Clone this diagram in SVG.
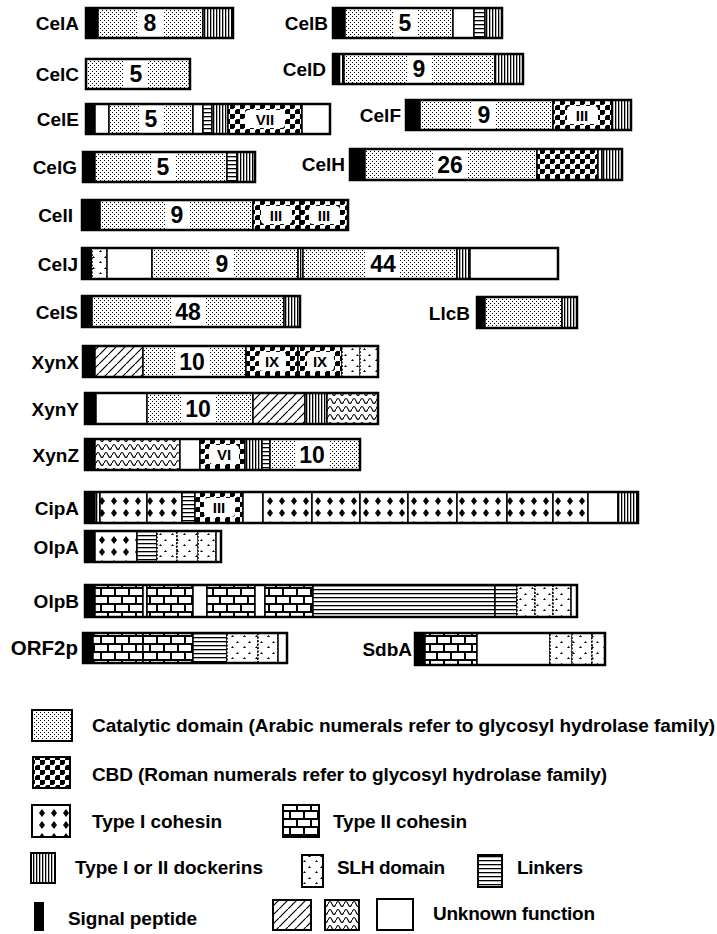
<svg xmlns="http://www.w3.org/2000/svg" width="717" height="934" viewBox="0 0 717 934">
<style>
.sig{fill:#000;stroke:#000;stroke-width:1}
.cat{fill:url(#pCat);stroke:#000;stroke-width:1.5}
.cbd{fill:url(#pCBD);stroke:#000;stroke-width:1.5}
.coh1{fill:url(#pCoh1);stroke:#000;stroke-width:1.5}
.coh2{fill:url(#pCoh2);stroke:#000;stroke-width:1.5}
.dock{fill:url(#pDock);stroke:#000;stroke-width:1.5}
.slh{fill:url(#pSLH);stroke:#000;stroke-width:1.5;stroke-dasharray:2 1.5}
.lnk{fill:url(#pLnk);stroke:#000;stroke-width:1.5}
.hat{fill:url(#pHat);stroke:#000;stroke-width:1.5}
.wav{fill:url(#pWav);stroke:#000;stroke-width:1.5}
.unk{fill:#fff;stroke:#000;stroke-width:1.5}
.out{fill:none;stroke:#000;stroke-width:2.5}
.nb{fill:#fff}
.rb{fill:#fff;stroke:none}
.num{font-family:"Liberation Sans",Arial,sans-serif;font-weight:bold;font-size:23px;text-anchor:middle;fill:#000}
.rn{font-family:"Liberation Sans",Arial,sans-serif;font-weight:bold;font-size:15px;text-anchor:middle;fill:#000}
.lbl{font-family:"Liberation Sans",Arial,sans-serif;font-weight:bold;font-size:19px;text-anchor:end;fill:#000}
.leg{font-family:"Liberation Sans",Arial,sans-serif;font-weight:bold;font-size:19px;fill:#000}
.lb{stroke:#000;stroke-width:2}
</style>
<defs>
<pattern id="pCat" width="4" height="4" patternUnits="userSpaceOnUse">
<rect width="4" height="4" fill="#fff"/>
<rect x="0" y="0" width="1" height="1" fill="#000"/>
<rect x="2" y="2" width="1" height="1" fill="#000"/>
</pattern>
<pattern id="pCBD" width="10" height="10" patternUnits="userSpaceOnUse">
<rect width="10" height="10" fill="#fff"/>
<rect width="5" height="5" fill="#000"/>
<rect x="5" y="5" width="5" height="5" fill="#000"/>
<circle cx="5" cy="5" r="1.3" fill="#fff"/>
</pattern>
<pattern id="pCoh1" width="12" height="12" y="3" patternUnits="userSpaceOnUse">
<rect width="12" height="12" fill="#fff"/>
<path d="M6,2 L9,6 L6,10 L3,6 Z" fill="#000"/>
</pattern>
<pattern id="pCoh2" width="14" height="16" y="2" patternUnits="userSpaceOnUse">
<rect width="14" height="16" fill="#fff"/>
<path d="M0,1H14 M0,9H14" stroke="#000" stroke-width="2"/>
<path d="M3,1V9 M10,9V17" stroke="#000" stroke-width="2"/>
</pattern>
<pattern id="pDock" width="3" height="4" patternUnits="userSpaceOnUse">
<rect width="3" height="4" fill="#fff"/>
<rect x="0" y="0" width="1.3" height="4" fill="#000"/>
</pattern>
<pattern id="pSLH" width="12" height="11" patternUnits="userSpaceOnUse">
<rect width="12" height="11" fill="#fff"/>
<path d="M3,4 L4.5,2 L6,4 Z M8,10 L9.5,8 L11,10 Z" fill="#000"/>
</pattern>
<pattern id="pLnk" width="4" height="4" patternUnits="userSpaceOnUse">
<rect width="4" height="4" fill="#fff"/>
<rect x="0" y="0" width="4" height="1.3" fill="#000"/>
</pattern>
<pattern id="pHat" width="9" height="9" patternUnits="userSpaceOnUse">
<rect width="9" height="9" fill="#fff"/>
<path d="M-1,10 L10,-1" stroke="#000" stroke-width="1.2"/>
</pattern>
<pattern id="pWav" width="8" height="8" y="3" patternUnits="userSpaceOnUse">
<rect width="8" height="8" fill="#fff"/>
<path d="M0,5 Q2,0 4,5 T8,5" fill="none" stroke="#000" stroke-width="1.1"/>
</pattern>
</defs>

<g id="CelA" transform="translate(0,8)">
<text class="lbl" x="79" y="22">CelA</text>
<rect class="sig" x="86" y="0" width="12" height="30"/>
<rect class="cat" x="98" y="0" width="105" height="30"/>
<rect class="nb" x="137" y="1" width="26" height="28"/><text class="num" x="150" y="23">8</text>
<rect class="dock" x="203" y="0" width="30" height="30"/>
<rect class="out" x="86" y="0" width="147" height="30"/>
</g>
<g id="CelB" transform="translate(0,8)">
<text class="lbl" x="328" y="22">CelB</text>
<rect class="sig" x="333" y="0" width="12" height="30"/>
<rect class="cat" x="345" y="0" width="108" height="30"/>
<rect class="nb" x="393" y="1" width="24" height="28"/><text class="num" x="405" y="23">5</text>
<rect class="unk" x="453" y="0" width="21" height="30"/>
<rect class="lnk" x="474" y="0" width="11" height="30"/>
<rect class="dock" x="485" y="0" width="17" height="30"/>
<rect class="out" x="333" y="0" width="169" height="30"/>
</g>
<g id="CelC" transform="translate(0,59)">
<text class="lbl" x="79" y="22">CelC</text>
<rect class="cat" x="86" y="0" width="104" height="30"/>
<rect class="nb" x="124" y="1" width="24" height="28"/><text class="num" x="136" y="23">5</text>
<rect class="out" x="86" y="0" width="104" height="30"/>
</g>
<g id="CelD" transform="translate(0,54)">
<text class="lbl" x="326" y="22">CelD</text>
<rect class="sig" x="333" y="0" width="6" height="30"/>
<rect class="dock" x="339" y="0" width="5" height="30"/>
<rect class="cat" x="344" y="0" width="151" height="30"/>
<rect class="nb" x="407" y="1" width="24" height="28"/><text class="num" x="419" y="23">9</text>
<rect class="dock" x="495" y="0" width="28" height="30"/>
<rect class="out" x="333" y="0" width="190" height="30"/>
</g>
<g id="CelE" transform="translate(0,104)">
<text class="lbl" x="79" y="22">CelE</text>
<rect class="sig" x="86" y="0" width="9" height="30"/>
<rect class="unk" x="95" y="0" width="14" height="30"/>
<rect class="cat" x="109" y="0" width="84" height="30"/>
<rect class="nb" x="139" y="1" width="24" height="28"/><text class="num" x="151" y="23">5</text>
<rect class="unk" x="193" y="0" width="10" height="30"/>
<rect class="lnk" x="203" y="0" width="9" height="30"/>
<rect class="dock" x="212" y="0" width="16" height="30"/>
<rect class="cbd" x="228" y="0" width="74" height="30"/>
<rect class="rb" x="245" y="6" width="40" height="18" rx="4"/><text class="rn" x="265" y="21">VII</text>
<rect class="unk" x="302" y="0" width="28" height="30"/>
<rect class="out" x="86" y="0" width="244" height="30"/>
</g>
<g id="CelF" transform="translate(0,100)">
<text class="lbl" x="401" y="22">CelF</text>
<rect class="sig" x="406" y="0" width="14" height="30"/>
<rect class="cat" x="420" y="0" width="133" height="30"/>
<rect class="nb" x="472" y="1" width="24" height="28"/><text class="num" x="484" y="23">9</text>
<rect class="cbd" x="553" y="0" width="59" height="30"/>
<rect class="rb" x="567" y="6" width="31" height="18" rx="4"/><text class="rn" x="582" y="21">III</text>
<rect class="dock" x="612" y="0" width="19" height="30"/>
<rect class="out" x="406" y="0" width="225" height="30"/>
</g>
<g id="CelG" transform="translate(0,152)">
<text class="lbl" x="77" y="22">CelG</text>
<rect class="sig" x="83" y="0" width="12" height="30"/>
<rect class="cat" x="95" y="0" width="132" height="30"/>
<rect class="nb" x="151" y="1" width="24" height="28"/><text class="num" x="163" y="23">5</text>
<rect class="lnk" x="227" y="0" width="10" height="30"/>
<rect class="dock" x="237" y="0" width="18" height="30"/>
<rect class="out" x="83" y="0" width="172" height="30"/>
</g>
<g id="CelH" transform="translate(0,149)">
<text class="lbl" x="345" y="22">CelH</text>
<rect class="sig" x="350" y="0" width="15" height="31"/>
<rect class="cat" x="365" y="0" width="172" height="31"/>
<rect class="nb" x="433" y="1" width="34" height="29"/><text class="num" x="450" y="24">26</text>
<rect class="cbd" x="537" y="0" width="61" height="31"/>
<rect class="unk" x="598" y="0" width="4" height="31"/>
<rect class="dock" x="602" y="0" width="20" height="31"/>
<rect class="out" x="350" y="0" width="272" height="31"/>
</g>
<g id="CelI" transform="translate(0,200)">
<text class="lbl" x="73" y="22">CelI</text>
<rect class="sig" x="82" y="0" width="18" height="30"/>
<rect class="cat" x="100" y="0" width="153" height="30"/>
<rect class="nb" x="165" y="1" width="24" height="28"/><text class="num" x="177" y="23">9</text>
<rect class="cbd" x="253" y="0" width="47" height="30"/>
<rect class="rb" x="261" y="6" width="31" height="18" rx="4"/><text class="rn" x="276" y="21">III</text>
<rect class="cbd" x="300" y="0" width="48" height="30"/>
<rect class="rb" x="309" y="6" width="31" height="18" rx="4"/><text class="rn" x="324" y="21">III</text>
<rect class="out" x="82" y="0" width="266" height="30"/>
</g>
<g id="CelJ" transform="translate(0,248)">
<text class="lbl" x="78" y="23">CelJ</text>
<rect class="sig" x="82" y="0" width="10" height="31"/>
<rect class="slh" x="92" y="0" width="15" height="31"/>
<rect class="unk" x="107" y="0" width="45" height="31"/>
<rect class="cat" x="152" y="0" width="146" height="31"/>
<rect class="nb" x="210" y="1" width="24" height="29"/><text class="num" x="222" y="24">9</text>
<rect class="dock" x="298" y="0" width="5" height="31"/>
<rect class="cat" x="303" y="0" width="154" height="31"/>
<rect class="nb" x="366" y="1" width="34" height="29"/><text class="num" x="383" y="24">44</text>
<rect class="dock" x="457" y="0" width="13" height="31"/>
<rect class="unk" x="470" y="0" width="88" height="31"/>
<rect class="out" x="82" y="0" width="476" height="31"/>
</g>
<g id="CelS" transform="translate(0,296)">
<text class="lbl" x="78" y="23">CelS</text>
<rect class="sig" x="82" y="0" width="10" height="31"/>
<rect class="cat" x="92" y="0" width="192" height="31"/>
<rect class="nb" x="171" y="1" width="34" height="29"/><text class="num" x="188" y="24">48</text>
<rect class="dock" x="284" y="0" width="16" height="31"/>
<rect class="out" x="82" y="0" width="218" height="31"/>
</g>
<g id="LlcB" transform="translate(0,297)">
<text class="lbl" x="470" y="23">LlcB</text>
<rect class="sig" x="477" y="0" width="8" height="31"/>
<rect class="cat" x="485" y="0" width="77" height="31"/>
<rect class="dock" x="562" y="0" width="15" height="31"/>
<rect class="out" x="477" y="0" width="100" height="31"/>
</g>
<g id="XynX" transform="translate(0,346)">
<text class="lbl" x="79" y="23">XynX</text>
<rect class="sig" x="83" y="0" width="12" height="31"/>
<rect class="hat" x="95" y="0" width="48" height="31"/>
<rect class="cat" x="143" y="0" width="103" height="31"/>
<rect class="nb" x="175" y="1" width="34" height="29"/><text class="num" x="192" y="24">10</text>
<rect class="cbd" x="246" y="0" width="52" height="31"/>
<rect class="rb" x="259" y="6" width="27" height="19" rx="4"/><text class="rn" x="272" y="21">IX</text>
<rect class="cbd" x="298" y="0" width="44" height="31"/>
<rect class="rb" x="307" y="6" width="27" height="19" rx="4"/><text class="rn" x="320" y="21">IX</text>
<rect class="slh" x="342" y="0" width="18" height="31"/>
<rect class="slh" x="360" y="0" width="18" height="31"/>
<rect class="out" x="83" y="0" width="295" height="31"/>
</g>
<g id="XynY" transform="translate(0,393)">
<text class="lbl" x="79" y="23">XynY</text>
<rect class="sig" x="85" y="0" width="11" height="31"/>
<rect class="unk" x="96" y="0" width="51" height="31"/>
<rect class="cat" x="147" y="0" width="106" height="31"/>
<rect class="nb" x="181" y="1" width="34" height="29"/><text class="num" x="198" y="24">10</text>
<rect class="hat" x="253" y="0" width="52" height="31"/>
<rect class="dock" x="305" y="0" width="22" height="31"/>
<rect class="wav" x="327" y="0" width="51" height="31"/>
<rect class="out" x="85" y="0" width="293" height="31"/>
</g>
<g id="XynZ" transform="translate(0,439)">
<text class="lbl" x="79" y="23">XynZ</text>
<rect class="sig" x="85" y="0" width="10" height="31"/>
<rect class="wav" x="95" y="0" width="85" height="31"/>
<rect class="unk" x="180" y="0" width="20" height="31"/>
<rect class="cbd" x="200" y="0" width="45" height="31"/>
<rect class="rb" x="209" y="6" width="30" height="19" rx="4"/><text class="rn" x="224" y="21">VI</text>
<rect class="dock" x="245" y="0" width="17" height="31"/>
<rect class="lnk" x="262" y="0" width="8" height="31"/>
<rect class="cat" x="270" y="0" width="90" height="31"/>
<rect class="nb" x="295" y="1" width="34" height="29"/><text class="num" x="312" y="24">10</text>
<rect class="out" x="85" y="0" width="275" height="31"/>
</g>
<g id="CipA" transform="translate(0,492)">
<text class="lbl" x="79" y="23">CipA</text>
<rect class="sig" x="85" y="0" width="10" height="31"/>
<rect class="dock" x="95" y="0" width="5" height="31"/>
<rect class="coh1" x="100" y="0" width="47" height="31"/>
<rect class="coh1" x="147" y="0" width="35" height="31"/>
<rect class="lnk" x="182" y="0" width="13" height="31"/>
<rect class="cbd" x="195" y="0" width="48" height="31"/>
<rect class="rb" x="204" y="6" width="31" height="19" rx="4"/><text class="rn" x="219" y="21">III</text>
<rect class="unk" x="243" y="0" width="20" height="31"/>
<rect class="coh1" x="263" y="0" width="49" height="31"/>
<rect class="coh1" x="312" y="0" width="48" height="31"/>
<rect class="coh1" x="360" y="0" width="48" height="31"/>
<rect class="coh1" x="408" y="0" width="49" height="31"/>
<rect class="coh1" x="457" y="0" width="50" height="31"/>
<rect class="coh1" x="507" y="0" width="46" height="31"/>
<rect class="coh1" x="553" y="0" width="35" height="31"/>
<rect class="unk" x="588" y="0" width="30" height="31"/>
<rect class="dock" x="618" y="0" width="20" height="31"/>
<rect class="out" x="85" y="0" width="553" height="31"/>
</g>
<g id="OlpA" transform="translate(0,531)">
<text class="lbl" x="79" y="23">OlpA</text>
<rect class="sig" x="85" y="0" width="10" height="31"/>
<rect class="coh1" x="95" y="0" width="42" height="31"/>
<rect class="lnk" x="137" y="0" width="20" height="31"/>
<rect class="slh" x="157" y="0" width="20" height="31"/>
<rect class="slh" x="177" y="0" width="21" height="31"/>
<rect class="slh" x="198" y="0" width="18" height="31"/>
<rect class="unk" x="216" y="0" width="5" height="31"/>
<rect class="out" x="85" y="0" width="136" height="31"/>
</g>
<g id="OlpB" transform="translate(0,585)">
<text class="lbl" x="79" y="23">OlpB</text>
<rect class="sig" x="85" y="0" width="10" height="32"/>
<rect class="coh2" x="95" y="0" width="48" height="32"/>
<rect class="unk" x="143" y="0" width="4" height="32"/>
<rect class="coh2" x="147" y="0" width="46" height="32"/>
<rect class="unk" x="193" y="0" width="14" height="32"/>
<rect class="coh2" x="207" y="0" width="48" height="32"/>
<rect class="unk" x="255" y="0" width="10" height="32"/>
<rect class="coh2" x="265" y="0" width="48" height="32"/>
<rect class="lnk" x="313" y="0" width="182" height="32"/>
<rect class="lnk" x="495" y="0" width="22" height="32"/>
<rect class="slh" x="517" y="0" width="18" height="32"/>
<rect class="slh" x="535" y="0" width="18" height="32"/>
<rect class="slh" x="553" y="0" width="18" height="32"/>
<rect class="unk" x="571" y="0" width="6" height="32"/>
<rect class="out" x="85" y="0" width="492" height="32"/>
</g>
<g id="ORF2p" transform="translate(0,633)">
<text class="lbl" x="78" y="22" style="font-size:20.5px">ORF2p</text>
<rect class="sig" x="83" y="0" width="10" height="30"/>
<rect class="coh2" x="93" y="0" width="50" height="30"/>
<rect class="coh2" x="143" y="0" width="50" height="30"/>
<rect class="lnk" x="193" y="0" width="34" height="30"/>
<rect class="slh" x="227" y="0" width="31" height="30"/>
<rect class="slh" x="258" y="0" width="20" height="30"/>
<rect class="unk" x="278" y="0" width="9" height="30"/>
<rect class="out" x="83" y="0" width="204" height="30"/>
</g>
<g id="SdbA" transform="translate(0,633)">
<text class="lbl" x="412" y="23">SdbA</text>
<rect class="sig" x="415" y="0" width="10" height="32"/>
<rect class="coh2" x="425" y="0" width="52" height="32"/>
<rect class="unk" x="477" y="0" width="73" height="32"/>
<rect class="slh" x="550" y="0" width="22" height="32"/>
<rect class="slh" x="572" y="0" width="20" height="32"/>
<rect class="slh" x="592" y="0" width="13" height="32"/>
<rect class="out" x="415" y="0" width="190" height="32"/>
</g>

<g id="legend">
<rect class="lb" x="32" y="710" width="40" height="31" fill="url(#pCat)"/>
<text class="leg" x="92" y="732" textLength="623" lengthAdjust="spacing">Catalytic domain (Arabic numerals refer to glycosyl hydrolase family)</text>
<rect class="lb" x="33" y="757" width="37" height="31" fill="url(#pCBD)"/>
<text class="leg" x="92" y="781" textLength="515" lengthAdjust="spacing">CBD (Roman numerals refer to glycosyl hydrolase family)</text>
<rect class="lb" x="32" y="805" width="38" height="32" fill="url(#pCoh1)"/>
<text class="leg" x="92" y="828" textLength="130" lengthAdjust="spacing">Type I cohesin</text>
<rect class="lb" x="283" y="805" width="36" height="32" fill="url(#pCoh2)"/>
<text class="leg" x="333" y="828" textLength="134" lengthAdjust="spacing">Type II cohesin</text>
<rect class="lb" x="31" y="853" width="24" height="30" fill="url(#pDock)"/>
<text class="leg" x="75" y="874" textLength="188" lengthAdjust="spacing">Type I or II dockerins</text>
<rect class="lb" x="302" y="855" width="21" height="32" fill="url(#pSLH)"/>
<text class="leg" x="337" y="874" textLength="108" lengthAdjust="spacing">SLH domain</text>
<rect class="lb" x="478" y="855" width="24" height="32" fill="url(#pLnk)"/>
<text class="leg" x="517" y="874" textLength="66" lengthAdjust="spacing">Linkers</text>
<rect class="lb" x="35" y="903" width="8" height="27" fill="#000"/>
<text class="leg" x="68" y="925" textLength="129" lengthAdjust="spacing">Signal peptide</text>
<rect class="lb" x="273" y="900" width="38" height="30" fill="url(#pHat)"/>
<rect class="lb" x="325" y="900" width="34" height="30" fill="url(#pWav)"/>
<rect class="lb" x="377" y="899" width="36" height="31" fill="#fff"/>
<text class="leg" x="433" y="920" textLength="162" lengthAdjust="spacing">Unknown function</text>
</g>
</svg>
